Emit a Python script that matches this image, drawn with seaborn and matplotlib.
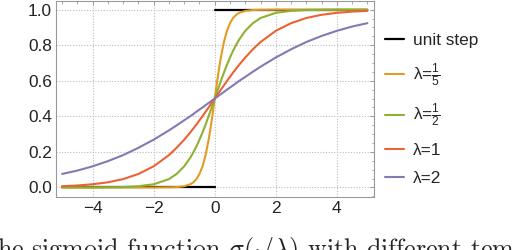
import numpy as np
import pandas as pd
import matplotlib
matplotlib.use("Agg")
import matplotlib.pyplot as plt
import seaborn as sns

# sample positions along x
x_vals = [-5, -4.5, -4, -3.5, -3, -2.5, -2, -1.5, -1.25, -1, -0.8, -0.7, -0.6, -0.5,
          -0.4, -0.3, -0.2, -0.15, -0.1, -0.05, 0,
          0.05, 0.1, 0.15, 0.2, 0.3, 0.4, 0.5, 0.6, 0.7, 0.8, 1, 1.25, 1.5, 2, 2.5,
          3, 3.5, 4, 4.5, 5]

y_lam_fifth = [0, 0, 0, 0, 0, 0, 0, 0.001, 0.002, 0.007, 0.018, 0.029, 0.047, 0.076,
               0.119, 0.182, 0.269, 0.321, 0.378, 0.438, 0.5,
               0.562, 0.622, 0.679, 0.731, 0.818, 0.881, 0.924, 0.953, 0.971, 0.982,
               0.993, 0.998, 0.999, 1, 1, 1, 1, 1, 1, 1]
y_lam_half = [0, 0, 0, 0.001, 0.002, 0.007, 0.018, 0.047, 0.076, 0.119, 0.168, 0.198,
              0.231, 0.269, 0.310, 0.354, 0.401, 0.426, 0.450, 0.475, 0.5,
              0.525, 0.550, 0.574, 0.599, 0.646, 0.690, 0.731, 0.769, 0.802, 0.832,
              0.881, 0.924, 0.953, 0.982, 0.993, 0.998, 0.999, 1, 1, 1]
y_lam_one = [0.007, 0.011, 0.018, 0.029, 0.047, 0.076, 0.119, 0.182, 0.223, 0.269,
             0.310, 0.332, 0.354, 0.378, 0.401, 0.426, 0.450, 0.463, 0.475, 0.488, 0.5,
             0.512, 0.525, 0.537, 0.550, 0.574, 0.599, 0.622, 0.646, 0.668, 0.690,
             0.731, 0.777, 0.818, 0.881, 0.924, 0.953, 0.971, 0.982, 0.989, 0.993]
y_lam_two = [0.076, 0.095, 0.119, 0.148, 0.182, 0.223, 0.269, 0.321, 0.349, 0.378,
             0.401, 0.413, 0.426, 0.438, 0.450, 0.463, 0.475, 0.481, 0.488, 0.494, 0.5,
             0.506, 0.512, 0.519, 0.525, 0.537, 0.550, 0.562, 0.574, 0.587, 0.599,
             0.622, 0.651, 0.679, 0.731, 0.777, 0.818, 0.852, 0.881, 0.905, 0.924]

step_x_low = [-5, 0]
step_y_low = [0, 0]
step_x_high = [0, 5]
step_y_high = [1, 1]

labels = [r"λ=$\frac{1}{5}$", r"λ=$\frac{1}{2}$", "λ=1", "λ=2"]
colors = ["#E19C24", "#8FB131", "#EB6235", "#8778B3"]

sns.set_style("white")
plt.rcParams["font.family"] = ["Liberation Sans", "DejaVu Sans"]
plt.rcParams["mathtext.fontset"] = "custom"
plt.rcParams["mathtext.rm"] = "Liberation Sans"
plt.rcParams["mathtext.it"] = "Liberation Sans:italic"

df = pd.DataFrame({
    "x": x_vals * 4,
    "y": y_lam_fifth + y_lam_half + y_lam_one + y_lam_two,
    "curve": sum([[lab] * len(x_vals) for lab in labels], []),
})

fig = plt.figure(figsize=(5.12, 2.5), dpi=100)
ax = fig.add_axes([0.1094, 0.2132, 0.6201, 0.7838])

sns.lineplot(x=step_x_low, y=step_y_low, color="black", lw=1.6, ax=ax, label="unit step")
sns.lineplot(x=step_x_high, y=step_y_high, color="black", lw=1.6, ax=ax)
sns.lineplot(data=df, x="x", y="y", hue="curve", hue_order=labels,
             palette=colors, lw=1.5, sort=False, ax=ax)

ax.set_xlim(-5.2, 5.2)
ax.set_ylim(-0.052, 1.047)
ax.set_xticks([-4, -2, 0, 2, 4])
ax.set_yticks([0.0, 0.2, 0.4, 0.6, 0.8, 1.0])
ax.set_yticklabels(["0.0", "0.2", "0.4", "0.6", "0.8", "1.0"])
ax.set_xticks(np.arange(-5, 5.01, 0.5), minor=True)
ax.set_yticks(np.arange(-0.05, 1.051, 0.05), minor=True)
ax.set_xlabel("")
ax.set_ylabel("")

ax.grid(True, which="major", color="#bdbdbd", linestyle=(0, (1, 1.5)), lw=0.8)
ax.set_axisbelow(True)
for sp in ax.spines.values():
    sp.set_color("#9a9a9a")
    sp.set_linewidth(0.8)
ax.tick_params(which="both", direction="in", top=True, right=True, color="#9a9a9a",
               labelsize=12.4, labelcolor="#222222")
ax.tick_params(which="major", length=3.2, width=0.7)
ax.tick_params(which="minor", length=1.8, width=0.6)
ax.tick_params(axis="x", pad=3)
ax.tick_params(axis="y", pad=3)

ax.legend(loc="upper left", bbox_to_anchor=(1.036, 0.835), frameon=False,
          fontsize=12.4, handlelength=1.1, handletextpad=0.52, labelspacing=0.77,
          borderpad=0, borderaxespad=0)

fig.text(-0.006, -0.026, r"he sigmoid function $\sigma(\cdot/\lambda)$ with different temperatures",
         family="cmr10", math_fontfamily="cm", fontsize=18.7, va="baseline", ha="left")

fig.savefig("out.png", dpi=100)
